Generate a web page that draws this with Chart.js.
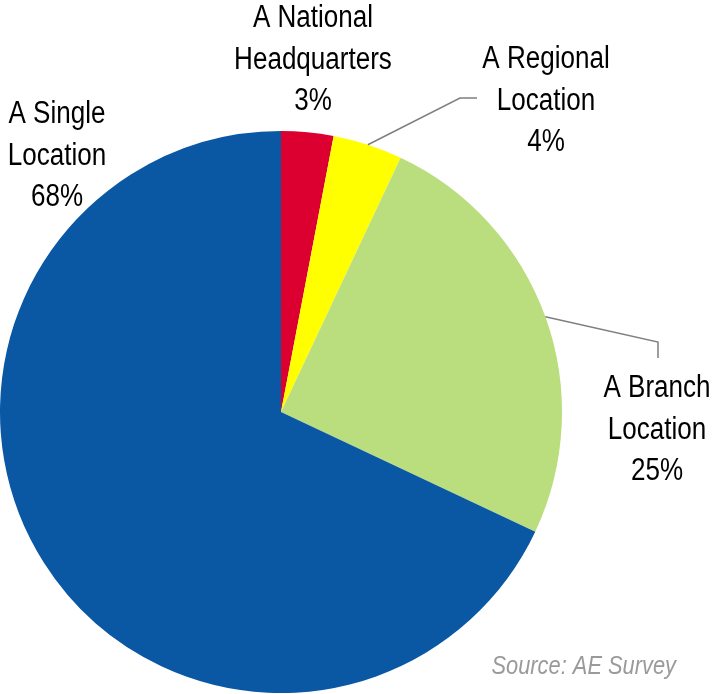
<!DOCTYPE html>
<html>
<head>
<meta charset="utf-8">
<script src="https://cdn.jsdelivr.net/npm/chart.js@4/dist/chart.umd.min.js"></script>
<style>
html,body{margin:0;padding:0;background:#fff;}
#wrap{width:713px;height:694px;position:relative;}
</style>
</head>
<body>
<div id="wrap"><canvas id="c" width="713" height="694"></canvas></div>
<script>
const categories = ["A National Headquarters", "A Regional Location", "A Branch Location", "A Single Location"];
const labelLines = [["A National", "Headquarters"], ["A Regional", "Location"], ["A Branch", "Location"], ["A Single", "Location"]];
const values = [3, 4, 25, 68];
const colors = ["#DB0030", "#FFFF00", "#BADE7D", "#0A57A4"];
const sourceText = "Source: AE Survey";

const FONT = '"Liberation Sans Narrow", "Arial Narrow", "Liberation Sans", Arial, sans-serif';
const NARROW = 0.84;

// label placement: center x, first-line baseline y, optional leader polyline end points
const labelLayout = [
  {x: 313, y: 27, leader: null},
  {x: 546, y: 68, leader: [[460, 98], [477, 98]]},
  {x: 657, y: 397, leader: [[658, 342], [658, 358]]},
  {x: 57, y: 123, leader: null}
];

function narrowText(ctx, t, x, y) {
  ctx.save();
  ctx.translate(x, y);
  ctx.scale(NARROW, 1);
  ctx.fillText(t, 0, 0);
  ctx.restore();
}

const labelPlugin = {
  id: 'pieLabels',
  afterDraw(chart) {
    const ctx = chart.ctx;
    const meta = chart.getDatasetMeta(0);
    ctx.save();
    meta.data.forEach((arc, i) => {
      const L = labelLayout[i];
      if (L.leader) {
        const mid = (arc.startAngle + arc.endAngle) / 2;
        const sx = arc.x + Math.cos(mid) * arc.outerRadius;
        const sy = arc.y + Math.sin(mid) * arc.outerRadius;
        ctx.strokeStyle = '#7F7F7F';
        ctx.lineWidth = 1.5;
        ctx.beginPath();
        ctx.moveTo(sx, sy);
        L.leader.forEach(p => ctx.lineTo(p[0], p[1]));
        ctx.stroke();
      }
      ctx.fillStyle = '#000';
      ctx.font = '31px ' + FONT;
      ctx.textAlign = 'center';
      ctx.textBaseline = 'alphabetic';
      const lines = labelLines[i].concat([values[i] + '%']);
      lines.forEach((t, k) => narrowText(ctx, t, L.x, L.y + k * 41.7));
    });
    ctx.font = 'italic 26px ' + FONT;
    ctx.fillStyle = '#9A9A9A';
    ctx.textAlign = 'right';
    ctx.textBaseline = 'alphabetic';
    narrowText(ctx, sourceText, 676, 674);
    ctx.restore();
  }
};

new Chart(document.getElementById('c'), {
  type: 'pie',
  data: {
    labels: categories,
    datasets: [{
      data: values,
      backgroundColor: colors,
      borderWidth: 0
    }]
  },
  options: {
    responsive: false,
    animation: false,
    rotation: 0,
    layout: {padding: {left: 0, top: 131, right: 151, bottom: 1}},
    plugins: {legend: {display: false}, tooltip: {enabled: false}}
  },
  plugins: [labelPlugin]
});
</script>
</body>
</html>
